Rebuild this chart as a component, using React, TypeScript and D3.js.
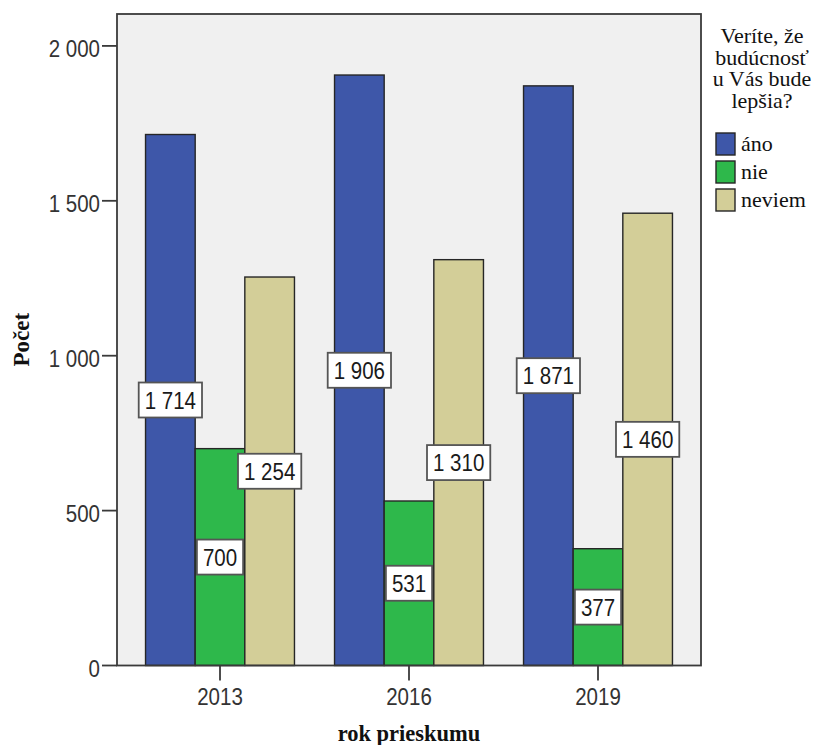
import React from "react";
import * as d3 from "d3";

// Survey years and answer categories
const years = ["2013", "2016", "2019"];
const answers = ["áno", "nie", "neviem"];
const answerColors = ["#3e57a9", "#2eb84b", "#d3ce98"];

// Counts per answer, one value per survey year
const anoCounts = [1714, 1906, 1871];
const nieCounts = [700, 531, 377];
const neviemCounts = [1254, 1310, 1460];

const yTicks = [0, 500, 1000, 1500, 2000];
const legendTitle = ["Veríte, že", "budúcnosť", "u Vás bude", "lepšia?"];
const xTitle = "rok prieskumu";
const yTitle = "Počet";

const W = 816;
const H = 745;
const plot = { left: 117, right: 701, top: 14, bottom: 665.5 };

const SANS = "'Liberation Sans', Arial, sans-serif";
const SERIF = "'Liberation Serif', 'Times New Roman', serif";
const SANS_SIZE = 20.5;
const SANS_STRETCH = 1.16;

const fmt = (v: number) => d3.format(",")(v).replace(/,/g, " ");

// approximate advance width of a numeric label in Liberation Sans
const labelWidth = (s: string) =>
  [...s].reduce((w, c) => w + (c === " " ? 0.278 : 0.556), 0) * SANS_SIZE;

export default function App() {
  const series = [anoCounts, nieCounts, neviemCounts];

  const x0 = d3
    .scaleBand<string>()
    .domain(years)
    .range([plot.left, plot.right])
    .paddingInner(0.212)
    .paddingOuter(0.151);
  const x1 = d3
    .scaleBand<string>()
    .domain(answers)
    .range([0, x0.bandwidth()]);
  const y = d3.scaleLinear().domain([0, 2103]).range([plot.bottom, plot.top]);

  const sansText = (
    key: string,
    tx: number,
    ty: number,
    label: string,
    anchor: string,
    fill: string
  ) => (
    <text
      key={key}
      transform={`translate(${tx},${ty}) scale(1,${SANS_STRETCH})`}
      textAnchor={anchor}
      fontFamily={SANS}
      fontSize={SANS_SIZE}
      fill={fill}
    >
      {label}
    </text>
  );

  return (
    <svg
      width={W}
      height={H}
      style={{ position: "absolute", left: 0, top: 0, background: "#ffffff" }}
    >
      {/* plot background */}
      <rect
        x={plot.left}
        y={plot.top}
        width={plot.right - plot.left}
        height={plot.bottom - plot.top}
        fill="#f0f0f0"
      />

      {/* bars */}
      {years.map((yr, i) => (
        <g key={yr} transform={`translate(${x0(yr)},0)`}>
          {answers.map((a, j) => {
            const v = series[j][i];
            return (
              <rect
                key={a}
                x={x1(a)}
                y={y(v)}
                width={x1.bandwidth()}
                height={y(0) - y(v)}
                fill={answerColors[j]}
                stroke="#262626"
                strokeWidth={1.4}
              />
            );
          })}
        </g>
      ))}

      {/* value labels in the middle of each bar */}
      {years.map((yr, i) =>
        answers.map((a, j) => {
          const v = series[j][i];
          const s = fmt(v);
          const cx = (x0(yr) as number) + (x1(a) as number) + x1.bandwidth() / 2;
          const cy = (y(v) + y(0)) / 2;
          const bw = labelWidth(s) + 12;
          const bh = 35;
          return (
            <g key={`${yr}-${a}`}>
              <rect
                x={cx - bw / 2}
                y={cy - bh / 2}
                width={bw}
                height={bh}
                fill="#ffffff"
                stroke="#555555"
                strokeWidth={1.8}
              />
              {sansText(`t-${yr}-${a}`, cx, cy + 8.5, s, "middle", "#1a1a1a")}
            </g>
          );
        })
      )}

      {/* plot frame */}
      <rect
        x={plot.left}
        y={plot.top}
        width={plot.right - plot.left}
        height={plot.bottom - plot.top}
        fill="none"
        stroke="#3a3a3a"
        strokeWidth={1.8}
      />

      {/* y axis ticks and labels */}
      {yTicks.map((t) => (
        <g key={t}>
          <line
            x1={plot.left - 15}
            x2={plot.left}
            y1={y(t)}
            y2={y(t)}
            stroke="#3a3a3a"
            strokeWidth={1.8}
          />
          {sansText(`y${t}`, plot.left - 17, y(t) + 11, fmt(t), "end", "#333333")}
        </g>
      ))}

      {/* x axis ticks and labels */}
      {years.map((yr) => {
        const cx = (x0(yr) as number) + x0.bandwidth() / 2;
        return (
          <g key={yr}>
            <line
              x1={cx}
              x2={cx}
              y1={plot.bottom}
              y2={plot.bottom + 15}
              stroke="#3a3a3a"
              strokeWidth={1.8}
            />
            {sansText(`x${yr}`, cx, 705, yr, "middle", "#333333")}
          </g>
        );
      })}

      {/* axis titles */}
      <text
        x={(plot.left + plot.right) / 2}
        y={741}
        textAnchor="middle"
        fontFamily={SERIF}
        fontWeight="bold"
        fontSize={22.5}
        fill="#111111"
      >
        {xTitle}
      </text>
      <text
        transform={`translate(29,${(plot.top + plot.bottom) / 2}) rotate(-90)`}
        textAnchor="middle"
        fontFamily={SERIF}
        fontWeight="bold"
        fontSize={23}
        fill="#111111"
      >
        {yTitle}
      </text>

      {/* legend */}
      <g>
        {legendTitle.map((line, k) => (
          <text
            key={line}
            x={762}
            y={43 + k * 21.7}
            textAnchor="middle"
            fontFamily={SERIF}
            fontSize={22}
            fill="#111111"
          >
            {line}
          </text>
        ))}
        {answers.map((a, j) => (
          <g key={a} transform={`translate(716,${133 + j * 28})`}>
            <rect
              width={19}
              height={22}
              fill={answerColors[j]}
              stroke="#262626"
              strokeWidth={1.4}
            />
            <text
              x={25}
              y={18}
              fontFamily={SERIF}
              fontSize={22}
              fill="#111111"
            >
              {a}
            </text>
          </g>
        ))}
      </g>
    </svg>
  );
}
